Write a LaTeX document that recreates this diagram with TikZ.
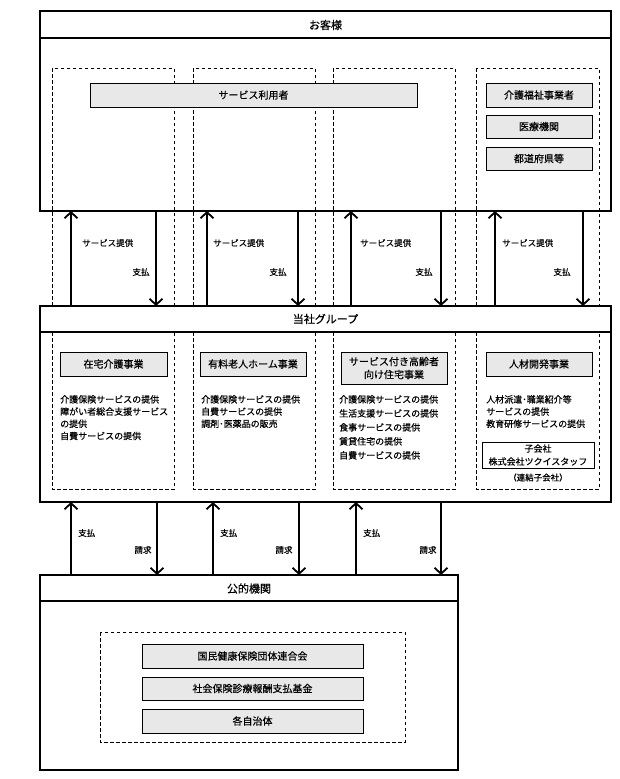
\documentclass[tikz,border=0pt]{standalone}
\usepackage{fontspec}
\setmainfont{Noto Sans CJK JP}[FakeBold=0.5]
\usetikzlibrary{arrows.meta}
\begin{document}
\begin{tikzpicture}[x=1pt,y=-1pt,
  box/.style={draw, line width=1.5pt, inner sep=0pt, outer sep=0pt, anchor=north west},
  dbox/.style={draw, dash pattern=on 3.5pt off 2.5pt, line width=0.9pt},
  gbox/.style={draw, line width=0.9pt, fill=gray!18, inner sep=0pt, outer sep=0pt, font=\fontsize{10}{12}\selectfont, align=center},
  wbox/.style={draw, line width=0.9pt, fill=white, inner sep=0pt, outer sep=0pt, font=\fontsize{9}{13}\selectfont, align=center},
  hdr/.style={font=\fontsize{11}{13}\selectfont, inner sep=0pt},
  lbl/.style={font=\fontsize{8.5}{10}\selectfont, inner sep=0pt},
  body/.style={font=\fontsize{9}{12.2}\selectfont, align=left, anchor=north west, inner sep=0pt},
  arr/.style={line width=1.8pt, -{Straight Barb[length=6pt,width=13pt]}}
]
\useasboundingbox (0,0) rectangle (619,779);

% dashed columns
\draw[dbox] (52,68) rectangle (174,489);
\draw[dbox] (193,68) rectangle (315,489);
\draw[dbox] (333,68) rectangle (455,489);
\draw[dbox] (476,68) rectangle (599,489);

% top box
\node[box, minimum width=571pt, minimum height=200pt] (cust) at (40,11) {};
\draw[line width=1.5pt] (40,38) -- (611,38);
\node[hdr] (custT) at (325.5,25) {お客様};

% middle box
\node[box, minimum width=571pt, minimum height=196pt] (grp) at (40,306) {};
\node[box, fill=white, minimum width=571pt, minimum height=26pt] (grpH) at (40,306) {};
\node[hdr] (grpT) at (325.5,319) {当社グループ};

% bottom box
\node[box, minimum width=418pt, minimum height=195pt] (pub) at (40,575) {};
\draw[line width=1.5pt] (40,601) -- (458,601);
\node[hdr] (pubT) at (249,588.5) {公的機関};
\draw[dbox] (100,632) rectangle (405,742);

% customer gray boxes
\node[gbox, minimum width=327pt, minimum height=24pt] (user) at (253.5,95) {サービス利用者};
\node[gbox, minimum width=106pt, minimum height=24pt] (kaigo) at (539,95) {介護福祉事業者};
\node[gbox, minimum width=106pt, minimum height=23pt] (iryo) at (539,126.5) {医療機関};
\node[gbox, minimum width=106pt, minimum height=23pt] (todo) at (539,158.5) {都道府県等};

% group gray boxes
\node[gbox, minimum width=107pt, minimum height=24pt] (zaitaku) at (113.5,364) {在宅介護事業};
\node[gbox, minimum width=106pt, minimum height=24pt] (yuryo) at (253,364) {有料老人ホーム事業};
\node[gbox, minimum width=106pt, minimum height=32pt, font=\fontsize{10}{13}\selectfont] (sakou) at (394,368) {サービス付き高齢者\\向け住宅事業};
\node[gbox, minimum width=106pt, minimum height=24pt] (jinzai) at (539,364) {人材開発事業};

% body texts
\node[body] (t1) at (60,395) {介護保険サービスの提供\\障がい者総合支援サービス\\の提供\\自費サービスの提供};
\node[body] (t2) at (201,395) {介護保険サービスの提供\\自費サービスの提供\\調剤･医薬品の販売};
\node[body, font=\fontsize{9}{14}\selectfont] (t3) at (339,395) {介護保険サービスの提供\\生活支援サービスの提供\\食事サービスの提供\\賃貸住宅の提供\\自費サービスの提供};
\node[body] (t4) at (486,395) {人材派遣･職業紹介等\\サービスの提供\\教育研修サービスの提供};
\node[wbox, minimum width=112pt, minimum height=26pt] (sub) at (538,455) {子会社\\株式会社ツクイスタッフ};
\node[lbl] (subL) at (538,477.5) {（連結子会社）};

% public gray boxes
\node[gbox, minimum width=221pt, minimum height=24pt] (kokuho) at (252.5,656) {国民健康保険団体連合会};
\node[gbox, minimum width=221pt, minimum height=23pt] (shaho) at (252.5,688.5) {社会保険診療報酬支払基金};
\node[gbox, minimum width=221pt, minimum height=24pt] (jichi) at (252.5,721) {各自治体};

% arrow x positions
\coordinate (u1) at (71,0);  \coordinate (d1) at (156,0);
\coordinate (u2) at (207,0); \coordinate (d2) at (298,0);
\coordinate (u3) at (351,0); \coordinate (d3) at (441,0);
\coordinate (u4) at (495,0); \coordinate (d4) at (583,0);
\coordinate (p1) at (71,0);  \coordinate (q1) at (157,0);
\coordinate (p2) at (213,0); \coordinate (q2) at (299,0);
\coordinate (p3) at (356,0); \coordinate (q3) at (441,0);

% arrows between customers and group
\foreach \u/\d in {u1/d1,u2/d2,u3/d3,u4/d4}{
  \draw[arr] (grp.north -| \u) -- (cust.south -| \u);
  \draw[arr] (cust.south -| \d) -- (grp.north -| \d);
}
% arrows between group and public
\foreach \u/\d in {p1/q1,p2/q2,p3/q3}{
  \draw[arr] (pub.north -| \u) -- (grp.south -| \u);
  \draw[arr] (grp.south -| \d) -- (pub.north -| \d);
}

% labels
\node[lbl, anchor=west] (s1) at (82,243) {サービス提供};
\node[lbl, anchor=west] (s2) at (213,243) {サービス提供};
\node[lbl, anchor=west] (s3) at (360,243) {サービス提供};
\node[lbl, anchor=west] (s4) at (502,243) {サービス提供};
\node[lbl] (h1) at (141,272) {支払};
\node[lbl] (h2) at (278,272) {支払};
\node[lbl] (h3) at (424,272) {支払};
\node[lbl] (h4) at (562,272) {支払};
\node[lbl, anchor=west] (b1) at (78,533) {支払};
\node[lbl, anchor=west] (b2) at (220,533) {支払};
\node[lbl, anchor=west] (b3) at (363,533) {支払};
\node[lbl] (c1) at (143,550) {請求};
\node[lbl] (c2) at (284,550) {請求};
\node[lbl] (c3) at (428,550) {請求};
\end{tikzpicture}
\end{document}
